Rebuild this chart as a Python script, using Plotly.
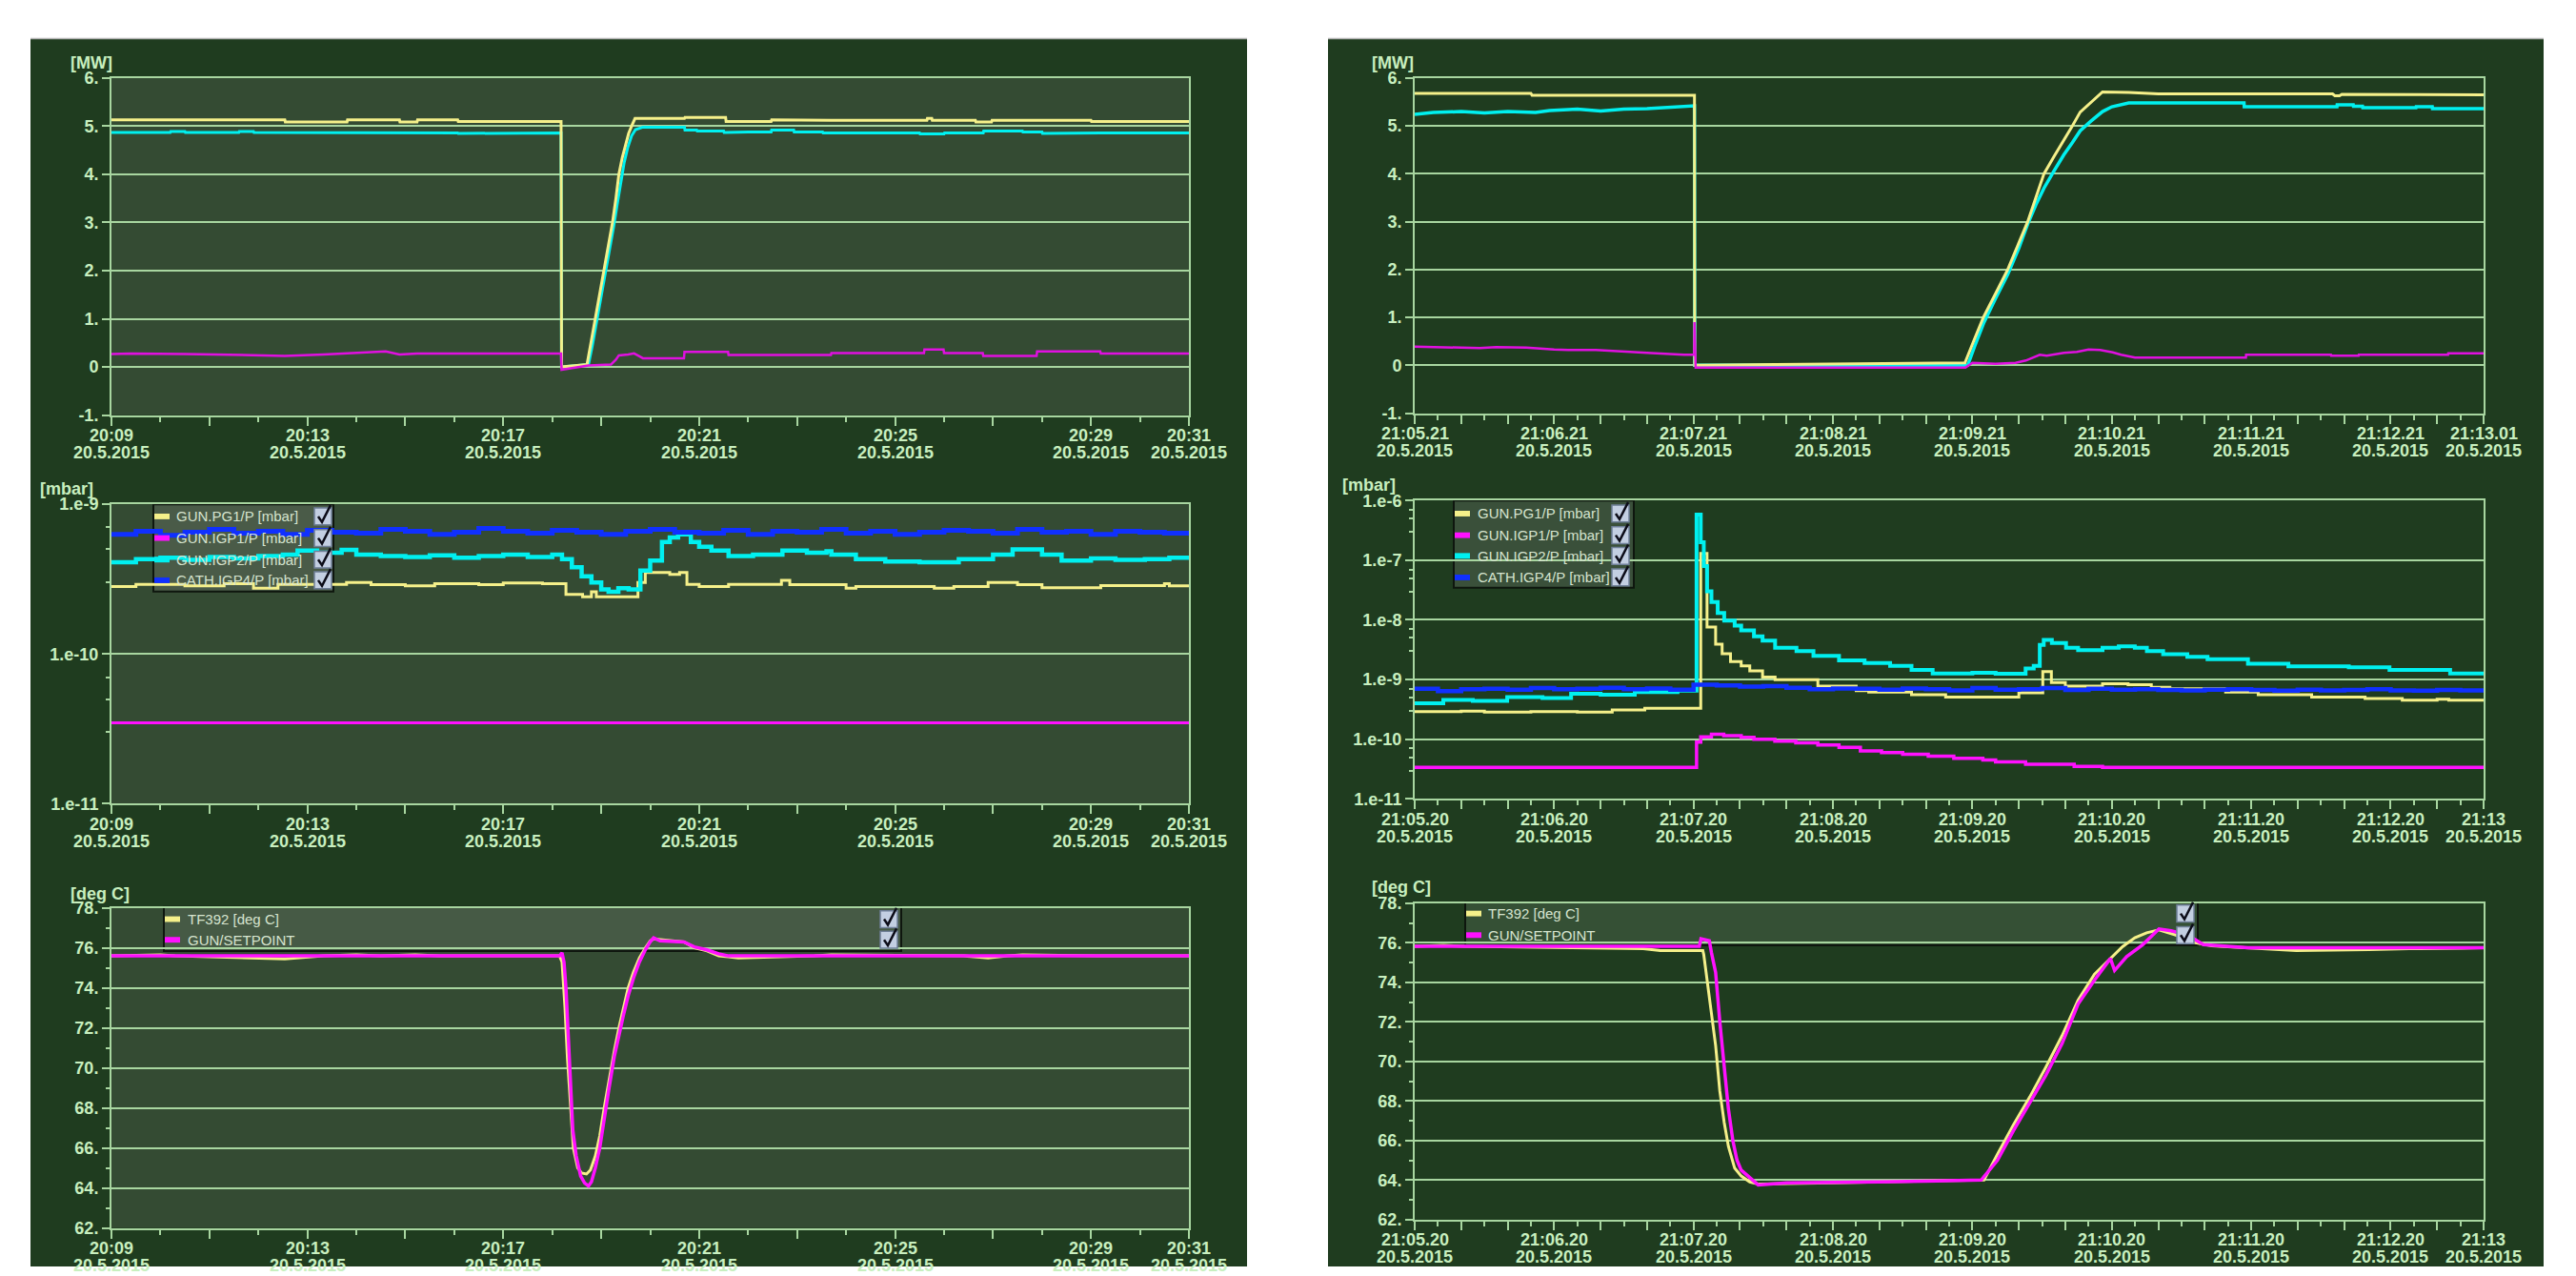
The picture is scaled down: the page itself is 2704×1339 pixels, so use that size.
import pandas as pd
import plotly.graph_objects as go

W, H = 2704, 1339

PANEL_BG = "#1f3c1f"
PLOT_BG_LEFT = "#344b33"
GRID = "#a8d6a0"
TEXT = "#c8efbf"
LEG_TEXT = "#d6e4cf"
YELLOW = "#f5f08a"
CYAN = "#00f0f0"
MAGENTA = "#ff10ff"
BLUE = "#1030ff"
FONT = "Liberation Sans, Arial, Helvetica, sans-serif"

DAY = "2015-05-20 "
DATE_TEXT = "20.5.2015"

# ---------------- left column: 20:09 - 20:31 (minutes after 20:09) ----------------
LT_FWD_T = [0, 3.54, 3.55, 4.81, 4.82, 5.88, 5.89, 6.24, 6.25, 7.07, 7.08, 9.18, 9.19, 9.71, 9.79, 9.88,
            9.97, 10.06, 10.15, 10.23, 10.30, 10.36, 10.43, 10.49, 10.56, 10.62, 10.69, 11.70, 11.71,
            12.54, 12.55, 13.47, 13.48, 14.69, 16.65, 16.66, 16.75, 16.76, 17.64, 17.65, 17.97, 17.98,
            20.00, 20.01, 22.00]
LT_FWD_V = [5.13, 5.13, 5.09, 5.09, 5.13, 5.13, 5.09, 5.09, 5.13, 5.13, 5.10, 5.10, 0.00, 0.05, 0.50, 1.00,
            1.50, 2.00, 2.50, 3.00, 3.50, 4.00, 4.35, 4.60, 4.85, 5.00, 5.16, 5.16, 5.18,
            5.18, 5.10, 5.10, 5.13, 5.12, 5.12, 5.16, 5.16, 5.12, 5.12, 5.09, 5.09, 5.12,
            5.12, 5.10, 5.10]

LT_CAV_T = [0, 1.2, 1.21, 1.5, 1.51, 2.6, 2.61, 2.9, 2.91, 4.43, 4.44, 7.07, 7.08, 8.6, 8.61, 9.18, 9.19,
            9.74, 9.82, 9.91, 10.00, 10.09, 10.18, 10.26, 10.33, 10.40, 10.47, 10.54, 10.62, 10.70,
            10.85, 11.70, 11.71, 11.95, 11.96, 12.50, 12.51, 13.00, 13.47, 13.48, 13.93, 13.94, 14.52,
            14.53, 16.50, 16.51, 17.00, 17.01, 17.80, 17.81, 18.60, 18.61, 19.00, 19.01, 20.20, 22.00]
LT_CAV_V = [4.87, 4.87, 4.89, 4.89, 4.87, 4.87, 4.89, 4.89, 4.87, 4.87, 4.86, 4.86, 4.85, 4.85, 4.86,
            4.86, 0.00, 0.05, 0.45, 0.95, 1.45, 1.95, 2.45, 2.95, 3.40, 3.85, 4.25, 4.55, 4.80, 4.93,
            4.98, 4.98, 4.92, 4.92, 4.90, 4.90, 4.87, 4.88, 4.88, 4.92, 4.92, 4.88, 4.88,
            4.86, 4.86, 4.84, 4.84, 4.86, 4.86, 4.90, 4.90, 4.88, 4.88, 4.85, 4.86, 4.86]

LT_REF_T = [0, 0.4, 1.5, 3.54, 4.33, 5.6, 5.88, 6.24, 9.18, 9.19, 9.74, 10.2, 10.3, 10.36, 10.55, 10.67,
            10.78, 10.85, 11.69, 11.70, 12.59, 12.60, 14.69, 14.70, 16.59, 16.60, 16.99, 17.00, 17.79,
            17.80, 18.89, 18.90, 20.19, 20.20, 22.00]
LT_REF_V = [0.27, 0.28, 0.27, 0.23, 0.26, 0.32, 0.26, 0.28, 0.28, -0.06, 0.03, 0.05, 0.15, 0.24, 0.26,
            0.28, 0.22, 0.18, 0.18, 0.31, 0.31, 0.25, 0.25, 0.29, 0.29, 0.36, 0.36, 0.29, 0.29,
            0.23, 0.23, 0.32, 0.32, 0.28, 0.28]

LM_PG1_T = [0, 0.5, 1.5, 2.3, 2.9, 3.4, 4.8, 5.3, 6.0, 6.6, 7.5, 8.0, 8.8, 9.28, 9.62, 9.8, 9.9, 10.75,
            10.9, 11.4, 11.6, 11.75, 12.0, 12.6, 13.68, 13.85, 15.0, 15.2, 16.8, 17.2, 17.9, 18.5, 19.0,
            20.2, 21.5, 21.6, 22.0]
LM_PG1_V = [2.82e-10, 2.92e-10, 2.85e-10, 2.95e-10, 2.75e-10, 2.92e-10, 3.0e-10, 2.9e-10, 2.85e-10,
            2.95e-10, 2.9e-10, 2.98e-10, 2.95e-10, 2.5e-10, 2.41e-10, 2.6e-10, 2.41e-10, 3.0e-10,
            3.5e-10, 3.4e-10, 3.5e-10, 2.92e-10, 2.82e-10, 2.92e-10, 3.1e-10, 2.9e-10, 2.75e-10,
            2.82e-10, 2.75e-10, 2.82e-10, 3.0e-10, 2.9e-10, 2.77e-10, 2.86e-10, 2.95e-10, 2.85e-10,
            2.85e-10]

LM_IGP1_T = [0, 22.0]
LM_IGP1_V = [3.47e-11, 3.47e-11]

LM_IGP2_T = [0, 0.5, 1.0, 1.5, 2.0, 2.5, 3.0, 3.5, 3.8, 4.2, 4.7, 5.0, 5.5, 6.0, 6.5, 7.0, 7.5, 8.0, 8.5,
             9.0, 9.2, 9.4, 9.6, 9.8, 10.0, 10.15, 10.35, 10.56, 10.8, 11.0, 11.24, 11.4, 11.57, 11.83,
             12.0, 12.25, 12.6, 13.1, 13.7, 14.2, 14.6, 14.7, 15.2, 15.8, 16.5, 17.3, 18.0, 18.4, 19.0,
             19.4, 20.0, 20.5, 21.1, 21.6, 22.0]
LM_IGP2_V = [4.1e-10, 4.3e-10, 4.4e-10, 4.25e-10, 4.45e-10, 4.35e-10, 4.5e-10, 4.6e-10, 4.9e-10,
             4.75e-10, 4.95e-10, 4.6e-10, 4.5e-10, 4.45e-10, 4.55e-10, 4.4e-10, 4.5e-10, 4.6e-10,
             4.45e-10, 4.6e-10, 4.3e-10, 3.8e-10, 3.3e-10, 3.0e-10, 2.7e-10, 2.6e-10, 2.75e-10,
             2.7e-10, 3.6e-10, 4.2e-10, 5.6e-10, 6.0e-10, 6.3e-10, 5.6e-10, 5.2e-10, 4.9e-10, 4.5e-10,
             4.6e-10, 4.9e-10, 4.75e-10, 4.85e-10, 4.6e-10, 4.3e-10, 4.15e-10, 4.1e-10, 4.3e-10,
             4.6e-10, 5.0e-10, 4.6e-10, 4.2e-10, 4.35e-10, 4.25e-10, 4.3e-10, 4.4e-10, 4.25e-10]

LM_IGP4_T = [0.0, 0.5, 1.0, 1.5, 2.0, 2.5, 3.0, 3.5, 4.0, 4.5, 5.0, 5.5, 6.0, 6.5, 7.0, 7.5, 8.0, 8.5,
             9.0, 9.5, 10.0, 10.5, 11.0, 11.5, 12.0, 12.5, 13.0, 13.5, 14.0, 14.5, 15.0, 15.5, 16.0,
             16.5, 17.0, 17.5, 18.0, 18.5, 19.0, 19.5, 20.0, 20.5, 21.0, 21.5, 22.0]
LM_IGP4_V = [6.3e-10, 6.6e-10, 6.2e-10, 6.5e-10, 6.8e-10, 6.4e-10, 6.6e-10, 6.3e-10, 6.7e-10, 6.5e-10,
             6.4e-10, 6.8e-10, 6.6e-10, 6.3e-10, 6.5e-10, 6.9e-10, 6.6e-10, 6.4e-10, 6.7e-10, 6.5e-10,
             6.3e-10, 6.6e-10, 6.8e-10, 6.5e-10, 6.4e-10, 6.7e-10, 6.3e-10, 6.6e-10, 6.5e-10, 6.8e-10,
             6.4e-10, 6.6e-10, 6.3e-10, 6.5e-10, 6.7e-10, 6.6e-10, 6.4e-10, 6.8e-10, 6.5e-10, 6.6e-10,
             6.3e-10, 6.6e-10, 6.5e-10, 6.4e-10, 6.5e-10]

LB_TF_T = [0, 1.0, 1.3, 3.54, 4.33, 5.0, 5.5, 6.2, 6.7, 9.15, 9.20, 9.26, 9.31, 9.37, 9.43, 9.52, 9.60,
           9.70, 9.78, 9.88, 9.97, 10.06, 10.16, 10.27, 10.37, 10.45, 10.55, 10.66, 10.78, 10.90, 11.00,
           11.07, 11.69, 11.90, 12.16, 12.40, 12.80, 14.35, 14.70, 17.40, 17.90, 18.30, 18.60, 20.10, 22.00]
LB_TF_V = [75.6, 75.65, 75.6, 75.45, 75.6, 75.65, 75.6, 75.65, 75.6, 75.6, 75.3, 73.0, 70.5, 68.0, 66.0,
           65.0, 64.75, 64.7, 64.9, 65.6, 66.6, 68.0, 69.4, 70.9, 72.1, 73.0, 74.0, 74.8, 75.5, 76.0, 76.35,
           76.45, 76.3, 76.0, 75.85, 75.6, 75.5, 75.6, 75.65, 75.6, 75.5, 75.6, 75.65, 75.6, 75.6]

LB_SET_T = [0, 9.15, 9.20, 9.24, 9.28, 9.33, 9.37, 9.42, 9.49, 9.58, 9.66, 9.74, 9.80, 9.88, 9.97, 10.06,
            10.16, 10.27, 10.37, 10.45, 10.55, 10.66, 10.78, 10.90, 11.00, 11.07, 11.20, 11.69, 11.90,
            12.16, 12.40, 12.60, 22.00]
LB_SET_V = [75.6, 75.6, 75.75, 75.3, 74.0, 71.5, 69.6, 66.9, 65.6, 64.6, 64.25, 64.1, 64.3, 65.0, 66.0,
            67.5, 69.0, 70.6, 71.8, 72.6, 73.6, 74.5, 75.3, 75.9, 76.3, 76.5, 76.35, 76.3, 76.05, 75.9,
            75.7, 75.6, 75.6]

# ---------------- right column (seconds after 21:05:21 top, 21:05:20 middle/bottom) ----------------
RT_FWD_T = [0, 50, 50.5, 120.4, 120.5, 236.8, 240.5, 244.7, 250.0, 255.2, 259.5, 263.8, 267.3, 270.8,
            275.0, 279.4, 283.0, 286.4, 291.0, 296.0, 307.3, 320.0, 395.0, 396.0, 398.0, 399.0, 460.0]
RT_FWD_V = [5.68, 5.68, 5.64, 5.64, 0.0, 0.05, 0.5, 1.0, 1.5, 2.0, 2.5, 3.0, 3.5, 4.0, 4.35, 4.7, 5.0,
            5.29, 5.5, 5.71, 5.70, 5.67, 5.67, 5.63, 5.63, 5.66, 5.65]

RT_CAV_T = [0, 8, 20, 30, 40, 52, 58, 70, 80, 90, 100, 108, 117, 120.4, 120.5, 238.0, 241.0, 245.0, 250.0,
            255.2, 260.0, 263.8, 267.3, 270.8, 275.0, 279.4, 283.0, 286.4, 291.0, 296.0, 300.0, 304.0,
            307.3, 356.9, 357.0, 396.9, 397.0, 403.9, 404.0, 407.9, 408.0, 430.9, 431.0, 437.9, 438.0, 460.0]
RT_CAV_V = [5.24, 5.28, 5.30, 5.27, 5.30, 5.28, 5.32, 5.35, 5.31, 5.35, 5.36, 5.39, 5.42, 5.42, 0.0, 0.0,
            0.4, 0.9, 1.4, 1.9, 2.45, 2.95, 3.35, 3.7, 4.05, 4.4, 4.65, 4.9, 5.1, 5.3, 5.4, 5.45,
            5.48, 5.48, 5.40, 5.40, 5.44, 5.44, 5.41, 5.41, 5.38, 5.38, 5.40, 5.40, 5.36, 5.36]

RT_REF_T = [0, 28, 35, 48, 60, 66, 78, 84, 92, 100, 115.9, 120.3, 120.4, 120.9, 237.0, 240.0, 250.0,
            258.6, 263.0, 269.0, 272.0, 279.4, 285.0, 290.0, 295.0, 300.4, 304.0, 307.3, 310.0, 357.7,
            357.8, 394.3, 394.4, 406.2, 406.3, 444.7, 444.8, 460.0]
RT_REF_V = [0.39, 0.36, 0.38, 0.37, 0.33, 0.32, 0.32, 0.30, 0.28, 0.26, 0.22, 0.22, 0.90, -0.05, -0.05,
            0.05, 0.03, 0.05, 0.10, 0.22, 0.20, 0.26, 0.28, 0.33, 0.32, 0.27, 0.22, 0.18, 0.16, 0.16,
            0.22, 0.22, 0.20, 0.20, 0.22, 0.22, 0.25, 0.25]

RM_PG1_T = [0, 20, 30, 50, 70, 85, 99, 123.1, 125.8, 129.5, 132.3, 135.9, 140.5, 144.2, 149.7, 155.1,
            173.5, 190.0, 195.4, 213.8, 228.5, 260.0, 270.3, 274.0, 280.0, 296.0, 307.0, 317.0, 325.0,
            349.0, 363.0, 386.0, 409.0, 425.0, 440.0, 445.0, 460.0]
RM_PG1_V = [2.9e-10, 2.95e-10, 2.85e-10, 2.9e-10, 2.85e-10, 3.1e-10, 3.3e-10, 1.3e-7, 7.6e-9, 3.9e-9,
            2.7e-9, 2.0e-9, 1.7e-9, 1.4e-9, 1.1e-9, 1.0e-9, 7.8e-10, 6.5e-10, 6.2e-10, 5.6e-10, 5.1e-10,
            6.0e-10, 1.36e-9, 8.9e-10, 7.8e-10, 8.5e-10, 8.2e-10, 7.4e-10, 7.0e-10, 6.2e-10, 5.6e-10,
            5.1e-10, 4.8e-10, 4.5e-10, 4.7e-10, 4.5e-10, 4.5e-10]

RM_IGP1_T = [0, 121.3, 123.1, 127.7, 133.0, 140.5, 146.0, 155.0, 164.0, 173.5, 182.6, 191.8, 200.9,
             210.0, 221.0, 232.0, 244.5, 250.0, 262.9, 283.8, 296.0, 460.0]
RM_IGP1_V = [3.4e-11, 9.0e-11, 1.1e-10, 1.22e-10, 1.15e-10, 1.08e-10, 1.0e-10, 9.3e-11, 8.7e-11, 8.0e-11,
             7.3e-11, 6.4e-11, 6.0e-11, 5.6e-11, 5.2e-11, 4.8e-11, 4.5e-11, 4.2e-11, 3.8e-11, 3.5e-11,
             3.4e-11, 3.4e-11]

RM_IGP2_T = [0, 12.3, 25, 39.8, 55, 67.3, 80, 94.7, 113.1, 121.3, 123.1, 124.4, 125.8, 127.7, 130.4,
             133.2, 137.7, 140.5, 146.0, 149.7, 155.1, 164.3, 171.6, 182.6, 193.6, 204.6, 213.8, 222.9,
             240, 250, 262.9, 266.4, 269.0, 270.7, 274.2, 280.3, 285.5, 296.0, 303.0, 309.9, 315.1, 322.1,
             332.5, 341.2, 358.6, 376.0, 402.0, 419.5, 445.6, 460.0]
RM_IGP2_V = [4.0e-10, 4.55e-10, 4.4e-10, 5.1e-10, 4.9e-10, 5.8e-10, 5.6e-10, 6.2e-10, 6.5e-10, 5.8e-7,
             2.0e-7, 8.0e-8, 3.0e-8, 2.0e-8, 1.3e-8, 9.7e-9, 8.0e-9, 6.7e-9, 5.3e-9, 4.5e-9, 3.4e-9,
             3.0e-9, 2.5e-9, 2.1e-9, 1.9e-9, 1.7e-9, 1.45e-9, 1.27e-9, 1.3e-9, 1.25e-9, 1.53e-9, 1.7e-9,
             3.8e-9, 4.6e-9, 4.1e-9, 3.4e-9, 3.1e-9, 3.4e-9, 3.6e-9, 3.4e-9, 3.0e-9, 2.65e-9, 2.4e-9,
             2.2e-9, 1.85e-9, 1.67e-9, 1.6e-9, 1.45e-9, 1.27e-9, 1.3e-9]

RM_IGP4_T = [0, 10, 20, 30, 40, 50, 60, 70, 80, 90, 100, 110, 120, 130, 140, 150, 160, 170, 180, 190,
             200, 210, 220, 230, 240, 250, 260, 270, 280, 290, 300, 310, 320, 330, 340, 350, 360, 370,
             380, 390, 400, 410, 420, 430, 440, 450, 460]
RM_IGP4_V = [7.0e-10, 6.4e-10, 6.9e-10, 7.0e-10, 6.8e-10, 7.2e-10, 6.9e-10, 7.0e-10, 7.3e-10, 6.9e-10,
             7.1e-10, 6.8e-10, 8.2e-10, 8.0e-10, 7.6e-10, 7.8e-10, 7.3e-10, 6.9e-10, 7.1e-10, 7.0e-10,
             6.8e-10, 7.1e-10, 6.9e-10, 6.6e-10, 7.2e-10, 6.8e-10, 6.9e-10, 7.2e-10, 6.7e-10, 7.0e-10,
             6.8e-10, 6.9e-10, 6.7e-10, 6.6e-10, 6.8e-10, 6.9e-10, 6.7e-10, 6.5e-10, 6.8e-10, 6.6e-10,
             6.7e-10, 6.9e-10, 6.6e-10, 6.5e-10, 6.7e-10, 6.6e-10, 6.5e-10]

RB_TF_T = [0, 12.3, 21.5, 98.4, 105.7, 124.0, 124.4, 125.8, 127.7, 129.5, 131.3, 133.2, 135.0, 137.7,
           140.5, 144.2, 147.8, 180, 220, 245, 250.8, 257.7, 264.7, 271.6, 278.6, 285.5, 292.5, 299.4,
           304.6, 309.9, 315.0, 320.3, 327.3, 336.0, 343.0, 349.9, 367.3, 379.4, 410.7, 428.0, 450.6, 460.0]
RB_TF_V = [75.82, 75.87, 75.82, 75.7, 75.6, 75.6, 75.4, 74.2, 72.5, 70.8, 68.5, 66.9, 65.7, 64.6, 64.2,
           63.9, 63.8, 63.85, 63.95, 64.0, 65.3, 66.8, 68.2, 69.7, 71.3, 73.1, 74.4, 75.2, 75.8, 76.25,
           76.5, 76.65, 76.4, 76.0, 75.85, 75.8, 75.7, 75.6, 75.65, 75.7, 75.72, 75.75]

RB_SET_T = [0, 122.5, 123.2, 126.8, 127.7, 129.5, 131.3, 133.2, 135.0, 136.9, 138.7, 140.5, 144.2, 147.8,
            160, 200, 243.8, 250.8, 257.7, 264.7, 271.6, 278.6, 285.5, 292.5, 299.4, 301.2, 306.4, 313.3,
            320.3, 325.5, 332.5, 339.4, 349.9, 358.6, 460.0]
RB_SET_V = [75.82, 75.82, 76.2, 76.1, 75.5, 74.5, 72.0, 69.5, 67.6, 66.0, 65.0, 64.5, 64.1, 63.75, 63.85,
            63.9, 64.0, 65.0, 66.5, 67.9, 69.3, 70.9, 72.9, 74.1, 75.2, 74.6, 75.3, 75.9, 76.7, 76.6,
            76.4, 75.9, 75.8, 75.75, 75.75]

# ---------------- axis labels ----------------
LEFT_LABELS = ["20:09", "20:13", "20:17", "20:21", "20:25", "20:29", "20:31"]
R1_LABELS = ["21:05.21", "21:06.21", "21:07.21", "21:08.21", "21:09.21", "21:10.21", "21:11.21",
             "21:12.21", "21:13.01"]
R23_LABELS = ["21:05.20", "21:06.20", "21:07.20", "21:08.20", "21:09.20", "21:10.20", "21:11.20",
              "21:12.20", "21:13"]

MW_TICKS = [-1, 0, 1, 2, 3, 4, 5, 6]
MW_TEXT = ["-1.", "0", "1.", "2.", "3.", "4.", "5.", "6."]
DEG_TICKS = [62, 64, 66, 68, 70, 72, 74, 76, 78]
DEG_TEXT = ["62.", "64.", "66.", "68.", "70.", "72.", "74.", "76.", "78."]

PRESSURE_NAMES = ["GUN.PG1/P [mbar]", "GUN.IGP1/P [mbar]", "GUN.IGP2/P [mbar]", "CATH.IGP4/P [mbar]"]
PRESSURE_COLORS = [YELLOW, MAGENTA, CYAN, BLUE]
TEMP_NAMES = ["TF392 [deg C]", "GUN/SETPOINT"]
TEMP_COLORS = [YELLOW, MAGENTA]


def fx(p):
    return p / W


def fy(p):
    return 1 - p / H


def clock(t):
    return pd.Timestamp(DAY + t)


L0 = clock("20:09:00")
L1 = clock("20:31:00")
RT0 = clock("21:05:21")
RT1 = clock("21:13:01")
R0 = clock("21:05:20")
R1 = clock("21:13:00")


def mins(ts):
    return [L0 + pd.Timedelta(minutes=m) for m in ts]


def secs(base, ts):
    return [base + pd.Timedelta(seconds=s) for s in ts]


# subplot frames in pixels: (x_left, x_right), (y_top, y_bottom)
FRAMES = {
    1: ((117, 1248), (73, 432)),
    2: ((117, 1248), (527, 846)),
    3: ((117, 1248), (957, 1298)),
    4: ((1485, 2607), (73, 430)),
    5: ((1485, 2607), (523, 841)),
    6: ((1485, 2607), (952, 1289)),
}

fig = go.Figure()


def ax(i):
    return ("x" if i == 1 else f"x{i}"), ("y" if i == 1 else f"y{i}")


def add_line(i, x, y, color, width, shape="hv"):
    xa, ya = ax(i)
    fig.add_trace(go.Scatter(x=x, y=y, mode="lines", xaxis=xa, yaxis=ya, hoverinfo="skip",
                             line=dict(color=color, width=width, shape=shape)))


# top-left: power
add_line(1, mins(LT_CAV_T), LT_CAV_V, CYAN, 3, "linear")
add_line(1, mins(LT_FWD_T), LT_FWD_V, YELLOW, 3, "linear")
add_line(1, mins(LT_REF_T), LT_REF_V, "#e010e0", 2.5, "linear")
# middle-left: pressures
add_line(2, mins(LM_PG1_T), LM_PG1_V, YELLOW, 3)
add_line(2, mins(LM_IGP1_T), LM_IGP1_V, MAGENTA, 3)
add_line(2, mins(LM_IGP2_T), LM_IGP2_V, CYAN, 4.5)
add_line(2, mins(LM_IGP4_T), LM_IGP4_V, BLUE, 5)
# bottom-left: temperatures
add_line(3, mins(LB_TF_T), LB_TF_V, YELLOW, 3, "linear")
add_line(3, mins(LB_SET_T), LB_SET_V, MAGENTA, 3.5, "linear")
# top-right: power
add_line(4, secs(RT0, RT_CAV_T), RT_CAV_V, CYAN, 3.5, "linear")
add_line(4, secs(RT0, RT_FWD_T), RT_FWD_V, YELLOW, 3, "linear")
add_line(4, secs(RT0, RT_REF_T), RT_REF_V, "#e010e0", 2.5, "linear")
# middle-right: pressures
add_line(5, secs(R0, RM_PG1_T), RM_PG1_V, YELLOW, 3)
add_line(5, secs(R0, RM_IGP1_T), RM_IGP1_V, MAGENTA, 3.5)
add_line(5, secs(R0, RM_IGP2_T), RM_IGP2_V, CYAN, 4)
add_line(5, secs(R0, RM_IGP4_T), RM_IGP4_V, BLUE, 4.5)
# bottom-right: temperatures
add_line(6, secs(R0, RB_TF_T), RB_TF_V, YELLOW, 3, "linear")
add_line(6, secs(R0, RB_SET_T), RB_SET_V, MAGENTA, 3.5, "linear")

tick_font = dict(family=FONT, size=18, color=TEXT, weight="bold")

x_specs = {
    1: (L0, L1, "2min", 60000),
    2: (L0, L1, "2min", 60000),
    3: (L0, L1, "2min", 60000),
    4: (RT0, RT1, "20s", 10000),
    5: (R0, R1, "20s", 10000),
    6: (R0, R1, "20s", 10000),
}

layout = {}
for i, ((xl, xr), (yt, yb)) in FRAMES.items():
    t0, t1, freq, minor_dt = x_specs[i]
    xa, ya = ax(i)
    layout["xaxis" if i == 1 else f"xaxis{i}"] = dict(
        domain=[fx(xl), fx(xr)], anchor=ya, type="date", range=[t0, t1],
        showgrid=False, zeroline=False, showline=True, linecolor=GRID, linewidth=2, mirror=True,
        ticks="outside", ticklen=9, tickwidth=2, tickcolor=GRID,
        tickmode="array", tickvals=list(pd.date_range(t0, t1, freq=freq)), showticklabels=False,
        minor=dict(ticks="outside", ticklen=5, tickwidth=1.5, tickcolor=GRID,
                   dtick=minor_dt, tick0=t0, showgrid=False),
    )
    ydict = dict(
        domain=[fy(yb), fy(yt)], anchor=xa, zeroline=False, showline=True, linecolor=GRID,
        linewidth=2, mirror=True, ticks="outside", ticklen=8, tickwidth=2, tickcolor=GRID,
        showgrid=True, gridcolor=GRID, gridwidth=2, tickfont=tick_font, tickmode="array",
    )
    if i in (1, 4):
        ydict.update(range=[-1, 6], tickvals=MW_TICKS, ticktext=MW_TEXT)
    elif i in (3, 6):
        ydict.update(range=[62, 78], tickvals=DEG_TICKS, ticktext=DEG_TEXT,
                     minor=dict(ticks="outside", ticklen=4, tickwidth=1.5, tickcolor=GRID,
                                dtick=1, tick0=63, showgrid=False))
    else:
        lo = -11
        hi = -9 if i == 2 else -6
        decades = list(range(lo, hi + 1))
        ydict.update(type="log", range=[lo, hi], tickvals=[10.0 ** d for d in decades],
                     ticktext=[f"1.e{d}" for d in decades],
                     minor=dict(ticks="outside", ticklen=4, tickwidth=1.5, tickcolor=GRID,
                                tickmode="array", showgrid=False,
                                tickvals=[m * 10.0 ** d for d in decades[:-1] for m in (3, 5, 7)]))
    layout["yaxis" if i == 1 else f"yaxis{i}"] = ydict

shapes = []
annotations = []

# instrument panels
for x0, x1 in ((32, 1309), (1394, 2670)):
    shapes.append(dict(type="rect", xref="paper", yref="paper", x0=fx(x0), x1=fx(x1), y0=fy(1339),
                       y1=fy(31), fillcolor=PANEL_BG, line=dict(width=0), layer="below"))
    shapes.append(dict(type="line", xref="paper", yref="paper", x0=fx(x0), x1=fx(x1), y0=fy(31),
                       y1=fy(31), line=dict(color="#b4b4b4", width=1.5), layer="below"))
# lighter plot areas of the left column
for i in (1, 2, 3):
    (xl, xr), (yt, yb) = FRAMES[i]
    shapes.append(dict(type="rect", xref="paper", yref="paper", x0=fx(xl), x1=fx(xr), y0=fy(yb),
                       y1=fy(yt), fillcolor=PLOT_BG_LEFT, line=dict(width=0), layer="below"))

# x tick labels: time and date rows
for i, labels in ((1, LEFT_LABELS), (2, LEFT_LABELS), (3, LEFT_LABELS),
                  (4, R1_LABELS), (5, R23_LABELS), (6, R23_LABELS)):
    xa, _ = ax(i)
    yb = FRAMES[i][1][1]
    for lab in labels:
        t = lab.replace(".", ":")
        pos = clock(t if t.count(":") == 2 else t + ":00")
        for text, dy in ((lab, 22), (DATE_TEXT, 40)):
            annotations.append(dict(x=pos, y=fy(yb + dy), xref=xa, yref="paper", text=text,
                                    showarrow=False, xanchor="center", yanchor="middle",
                                    font=tick_font))

# unit labels
for text, xleft, ymid in (("[MW]", 72, 57), ("[mbar]", 40, 511), ("[deg C]", 72, 942),
                          ("[MW]", 1438, 57), ("[mbar]", 1407, 507), ("[deg C]", 1438, 935)):
    annotations.append(dict(x=fx(xleft), y=fy(ymid), xref="paper", yref="paper", text=text,
                            showarrow=False, xanchor="left", yanchor="middle", font=tick_font))


def legend(box, fill, rows, names, colors, swatch_x, text_x, check_x):
    x0, x1, y0, y1 = box
    shapes.append(dict(type="rect", xref="paper", yref="paper", x0=fx(x0), x1=fx(x1), y0=fy(y1),
                       y1=fy(y0), fillcolor=fill, line=dict(color="#0e160e", width=2), layer="below"))
    for ym, name, col in zip(rows, names, colors):
        shapes.append(dict(type="rect", xref="paper", yref="paper", x0=fx(swatch_x),
                           x1=fx(swatch_x + 16), y0=fy(ym + 3), y1=fy(ym - 3), fillcolor=col,
                           line=dict(width=0), layer="above"))
        annotations.append(dict(x=fx(text_x), y=fy(ym), xref="paper", yref="paper", text=name,
                                showarrow=False, xanchor="left", yanchor="middle",
                                font=dict(family=FONT, size=15, color=LEG_TEXT)))
        cx, cy = check_x, ym
        shapes.append(dict(type="rect", xref="paper", yref="paper", x0=fx(cx), x1=fx(cx + 18),
                           y0=fy(cy + 9), y1=fy(cy - 9), fillcolor="#c3cfe2",
                           line=dict(color="#6f7f98", width=1.5), layer="above"))
        path = (f"M {fx(cx + 4)} {fy(cy)} L {fx(cx + 8)} {fy(cy + 6)} "
                f"L {fx(cx + 17)} {fy(cy - 12)}")
        shapes.append(dict(type="path", xref="paper", yref="paper", path=path,
                           line=dict(color="#0c0c18", width=2.5), layer="above"))


legend((161, 350, 527, 620), "#4a5b48", [540, 563, 586, 608], PRESSURE_NAMES, PRESSURE_COLORS,
       162, 183, 330)
legend((1526, 1715, 523, 616), "#3a503a", [537, 560, 582, 605], PRESSURE_NAMES, PRESSURE_COLORS,
       1527, 1549, 1692)
legend((172, 946, 956, 1003), "#465a45", [969, 991], TEMP_NAMES, TEMP_COLORS, 173, 195, 924)
legend((1538, 2307, 951, 997), "#355035", [963, 986], TEMP_NAMES, TEMP_COLORS, 1539, 1560, 2285)

fig.update_layout(
    width=W, height=H, margin=dict(l=0, r=0, t=0, b=0, pad=0),
    paper_bgcolor="white", plot_bgcolor="rgba(0,0,0,0)", showlegend=False,
    shapes=shapes, annotations=annotations, **layout,
)

fig.write_html("out.html", config={"displayModeBar": False},
               post_script="document.body.style.margin='0';")
